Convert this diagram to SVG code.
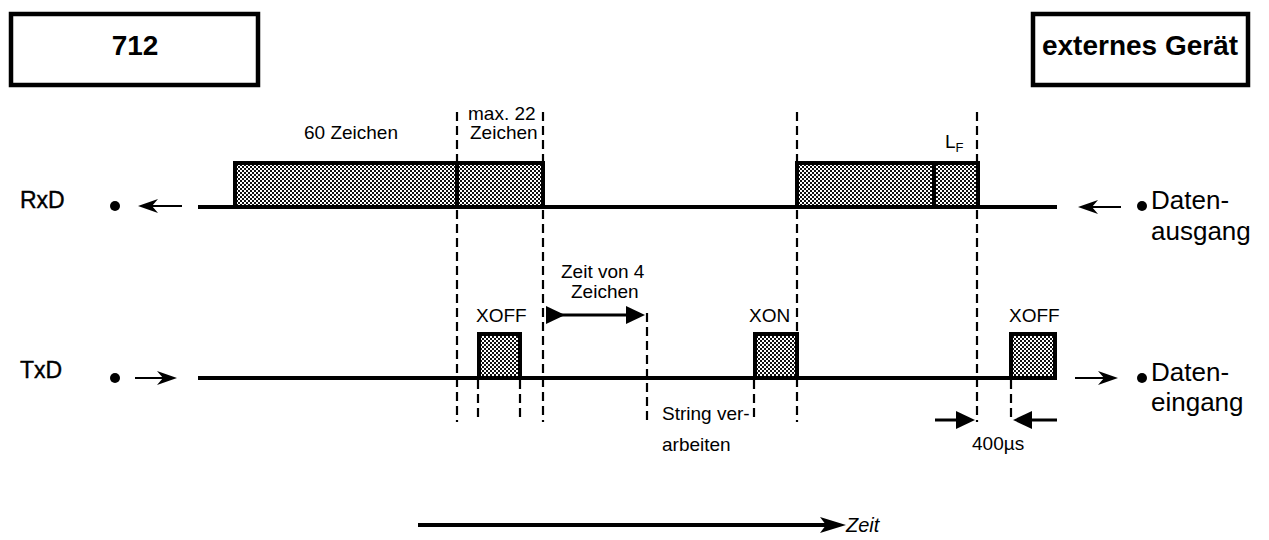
<svg xmlns="http://www.w3.org/2000/svg" width="1269" height="540" viewBox="0 0 1269 540">
<style>
text{font-family:"Liberation Sans",Arial,Helvetica,sans-serif;fill:#000}
.big{font-size:28px;font-weight:bold;text-anchor:middle}
.sig{font-size:23px;stroke:#000;stroke-width:0.4}
.lbl{font-size:19px}
.sub{font-size:13px}
.dat{font-size:26px}
.zeit{font-size:20px;font-style:italic}
.box{fill:#fff;stroke:#000;stroke-width:4.5}
.blk{fill:url(#dots);stroke:#000;stroke-width:4}
.sigline{stroke:#000;stroke-width:4;fill:none}
.div{stroke:#000;stroke-width:4}
.dash{stroke:#000;stroke-width:2.2;stroke-dasharray:9 5;fill:none}
.thin{stroke:#000;stroke-width:2;fill:none}
.med{stroke:#000;stroke-width:3;fill:none}
.zl{stroke:#000;stroke-width:4;fill:none}
</style>
<defs>
<pattern id="dots" width="4" height="4" patternUnits="userSpaceOnUse">
<rect width="4" height="4" fill="#fff"/>
<rect width="2" height="2" fill="#111"/>
<rect x="2" y="2" width="2" height="2" fill="#111"/>
</pattern>
<marker id="barb" viewBox="0 0 20 14" refX="10" refY="7" markerWidth="20" markerHeight="14" markerUnits="userSpaceOnUse" orient="auto">
<path d="M0,0 L20,7 L0,14 L6,7 Z" fill="#000"/>
</marker>
<marker id="solid" viewBox="0 0 19 18" refX="9" refY="9" markerWidth="19" markerHeight="18" markerUnits="userSpaceOnUse" orient="auto">
<path d="M0,0 L19,9 L0,18 Z" fill="#000"/>
</marker>
<marker id="zeitHead" viewBox="0 0 26 16" refX="10" refY="8" markerWidth="26" markerHeight="16" markerUnits="userSpaceOnUse" orient="auto">
<path d="M0,0 L26,8 L0,16 L6,8 Z" fill="#000"/>
</marker>
</defs>

<g id="box712">
<rect class="box" x="11" y="14" width="247" height="71"/>
<text class="big" x="135" y="55">712</text>
</g>
<g id="boxExtern">
<rect class="box" x="1033" y="14" width="215" height="71"/>
<text class="big" x="1140" y="55">externes Gerät</text>
</g>

<g id="rxd-label">
<text class="sig" x="20" y="208">RxD</text>
<circle cx="115" cy="206" r="5"/>
</g>
<g id="txd-label">
<text class="sig" x="20" y="378">TxD</text>
<circle cx="115" cy="378" r="5"/>
</g>
<g id="datenausgang">
<circle cx="1142" cy="206" r="5"/>
<text class="dat" x="1151" y="209">Daten-</text>
<text class="dat" x="1151" y="240">ausgang</text>
</g>
<g id="dateneingang">
<circle cx="1142" cy="378" r="5"/>
<text class="dat" x="1151" y="381">Daten-</text>
<text class="dat" x="1151" y="411">eingang</text>
</g>

<g id="rxd-signal">
<line class="sigline" x1="198" y1="207" x2="1057" y2="207"/>
<rect class="blk" x="235" y="163" width="308" height="44"/>
<line class="div" x1="457" y1="163" x2="457" y2="207"/>
<rect class="blk" x="797" y="163" width="181" height="44"/>
<line class="div" x1="934" y1="163" x2="934" y2="207"/>
<text class="lbl" x="304" y="139">60 Zeichen</text>
<text class="lbl" x="468" y="120">max. 22</text>
<text class="lbl" x="470" y="139">Zeichen</text>
<text class="lbl" x="945" y="148">L<tspan class="sub" dy="4">F</tspan></text>
</g>

<g id="txd-signal">
<line class="sigline" x1="198" y1="378" x2="1011" y2="378"/>
<rect class="blk" x="479" y="334" width="41" height="44"/>
<rect class="blk" x="755" y="334" width="42" height="44"/>
<rect class="blk" x="1011" y="334" width="44" height="44"/>
<text class="lbl" x="476" y="322">XOFF</text>
<text class="lbl" x="749" y="322">XON</text>
<text class="lbl" x="1009" y="322">XOFF</text>
<text class="lbl" x="561" y="278">Zeit von 4</text>
<text class="lbl" x="571" y="298">Zeichen</text>
<text class="lbl" x="662" y="420">String ver-</text>
<text class="lbl" x="662" y="451">arbeiten</text>
<text class="lbl" x="972" y="450">400µs</text>
</g>

<g id="connectors">
<line class="dash" x1="457" y1="112" x2="457" y2="422"/>
<line class="dash" x1="543" y1="112" x2="543" y2="422"/>
<line class="dash" x1="797" y1="112" x2="797" y2="422"/>
<line class="dash" x1="977" y1="112" x2="977" y2="422"/>
<line class="dash" x1="478" y1="380" x2="478" y2="422"/>
<line class="dash" x1="520" y1="380" x2="520" y2="422"/>
<line class="dash" x1="647" y1="313" x2="647" y2="422"/>
<line class="dash" x1="754" y1="380" x2="754" y2="422"/>
<line class="dash" x1="1011" y1="380" x2="1011" y2="422"/>

<line class="thin" x1="182" y1="206" x2="148" y2="206" marker-end="url(#barb)"/>
<line class="thin" x1="135" y1="378" x2="167" y2="378" marker-end="url(#barb)"/>
<line class="thin" x1="1121" y1="207" x2="1088" y2="207" marker-end="url(#barb)"/>
<line class="thin" x1="1075" y1="378" x2="1108" y2="378" marker-end="url(#barb)"/>

<line class="med" x1="555" y1="315" x2="635" y2="315" marker-start="url(#solid)" marker-end="url(#solid)"/>
<line class="med" x1="935" y1="420" x2="965" y2="420" marker-end="url(#solid)"/>
<line class="med" x1="1057" y1="420" x2="1023" y2="420" marker-end="url(#solid)"/>

<line class="zl" x1="418" y1="525" x2="830" y2="525" marker-end="url(#zeitHead)"/>
</g>
<text class="zeit" x="846" y="532">Zeit</text>
</svg>
